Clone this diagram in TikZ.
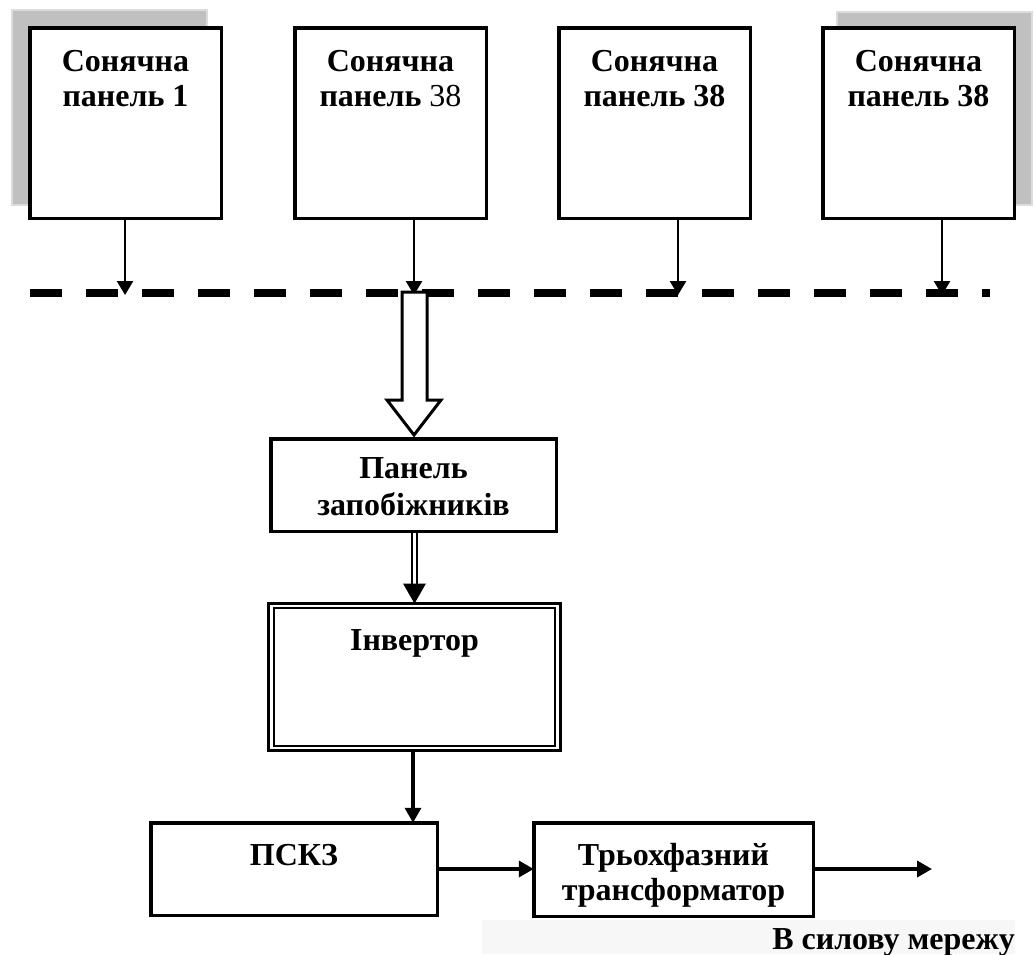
\documentclass[tikz,border=0pt]{standalone}
\usepackage{fontspec}
\setmainfont{Liberation Serif}
\usetikzlibrary{arrows.meta,calc}
\definecolor{shadowgray}{HTML}{C0C0C0}
\definecolor{shadowedge}{HTML}{DCDCDC}
\definecolor{bandgray}{HTML}{F7F7F7}
\begin{document}
\begin{tikzpicture}[x=1pt,y=-1pt,
  box/.style={draw, line width=3.5pt, fill=white, inner sep=0pt, outer sep=0pt},
  lbl/.style={font=\fontsize{32}{35}\selectfont\bfseries, align=center, inner sep=0pt},
  shadowbox/.style={draw=shadowedge, line width=1.5pt, fill=shadowgray},
  thinarr/.style={line width=2.5pt, -{Triangle[width=16pt,length=14pt]}},
  arr/.style={line width=3.5pt, -{Triangle[width=16pt,length=15pt]}},
  busline/.style={line width=8pt, dash pattern=on 32pt off 24pt},
]
\useasboundingbox (0,0) rectangle (1035,954);

% shadows
\draw[shadowbox] (12,10) rectangle (207,205);
\draw[shadowbox] (837,12) rectangle (1032,205);

% solar panels
\node[box, minimum width=191.5pt, minimum height=190.5pt] (p1) at (125.5,123) {};
\node[box, minimum width=191.5pt, minimum height=190.5pt] (p2) at (390.5,123) {};
\node[box, minimum width=191.5pt, minimum height=190.5pt] (p3) at (654.5,123) {};
\node[box, minimum width=191.5pt, minimum height=190.5pt] (p4) at (918.5,123) {};
\node[lbl, anchor=base] (t1) at (125.5,106) {Сонячна\\панель 1};
\node[lbl, anchor=base] (t2) at (390.5,106) {Сонячна\\панель {\mdseries 38}};
\node[lbl, anchor=base] (t3) at (654.5,106) {Сонячна\\панель 38};
\node[lbl, anchor=base] (t4) at (918.5,106) {Сонячна\\панель 38};

% bus
\coordinate (busL) at (30,293);
\coordinate (busR) at (990,293);
\draw[busline] (busL) -- (busR);
\coordinate (b1) at (125,295);
\coordinate (b2) at (414,295);
\coordinate (b3) at (678,295);
\coordinate (b4) at (942,295);
\draw[thinarr] (p1.south -| b1) -- (b1);
\draw[thinarr] (p2.south -| b2) -- (b2);
\draw[thinarr] (p3.south -| b3) -- (b3);
\draw[thinarr] (p4.south -| b4) -- (b4);

% fuse panel
\node[box, minimum width=285.5pt, minimum height=92.5pt] (pz) at (413.5,485) {};
\node[lbl, font=\fontsize{32}{37}\selectfont\bfseries, anchor=base] (tpz) at (413.5,515) {Панель\\запобіжників};

% hollow arrow
\draw[line width=3pt, fill=white, line join=miter] (402,292) -- (427,292) -- (427,400) -- (441,400) -- (414,435) -- (387,400) -- (402,400) -- cycle;

% inverter
\node[box, line width=3pt, minimum width=292pt, minimum height=147pt] (inv) at (414.5,677) {};
\draw[line width=2pt] ([shift={(5.5,4.5)}]inv.north west) rectangle ([shift={(-5.5,-4.5)}]inv.south east);
\node[lbl, anchor=base] (tinv) at (414.5,650) {Інвертор};

% double arrow
\draw[line width=2pt] ($(pz.south)+(-1.5,0)$) -- ($(inv.north)+(-2.5,-20)$);
\draw[line width=2pt] ($(pz.south)+(3.5,0)$) -- ($(inv.north)+(2.5,-20)$);
\fill ($(inv.north)+(-11.5,-20)$) -- ($(inv.north)+(11.5,-20)$) -- ($(inv.north)+(0,0)$) -- cycle;

% PSKZ and transformer
\node[box, minimum width=286.5pt, minimum height=92.5pt] (pskz) at (294,869) {};
\node[lbl, anchor=base] (tpskz) at (294,865) {ПСКЗ};
\fill[bandgray] (482,920) rectangle (1015,954);
\node[box, minimum width=279.5pt, minimum height=93.5pt] (tr) at (673.5,869.5) {};
\node[lbl, anchor=base] (ttr) at (673.5,900) {Трьохфазний\\трансформатор};

\coordinate (out) at (932,869);
\draw[arr] ($(inv.south)+(-1.5,0)$) -- ($(inv.south |- pskz.north)+(-1.5,0)$);
\draw[arr] (pskz.east) -- (pskz.east -| tr.west);
\draw[arr] (tr.east |- out) -- (out);

\node[lbl, anchor=base east] (net) at (1015,949) {В силову мережу};
\end{tikzpicture}
\end{document}
